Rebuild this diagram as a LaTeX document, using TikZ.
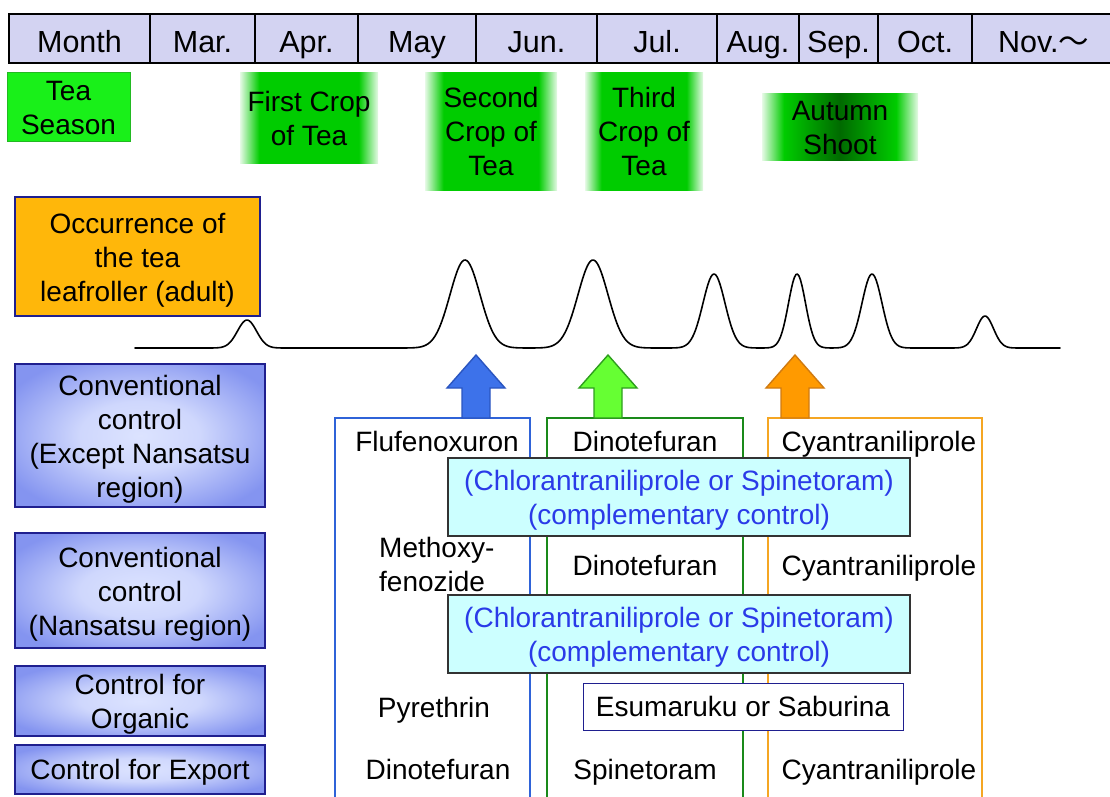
\documentclass[tikz,border=0pt]{standalone}
\usepackage{fontspec}
\setmainfont{Liberation Sans}
\newfontfamily\cjk{Noto Sans CJK JP}
\newcommand\toprl{\rule{0pt}{27pt}}
\definecolor{headfill}{HTML}{D3D3F2}
\definecolor{teagreen}{HTML}{19F019}
\definecolor{teaborder}{HTML}{22B922}
\definecolor{cropgreen}{HTML}{00CC00}
\definecolor{deepgreen}{HTML}{006A00}
\definecolor{occfill}{HTML}{FFB70A}
\definecolor{navy}{HTML}{1F1F8F}
\definecolor{ctrlin}{HTML}{DCE3FF}
\definecolor{ctrlout}{HTML}{8494F0}
\definecolor{cyanfill}{HTML}{CCFFFF}
\definecolor{cyantext}{HTML}{2A3AE8}
\definecolor{blueline}{HTML}{2F63D8}
\definecolor{greenline}{HTML}{1A8A1A}
\definecolor{orangeline}{HTML}{F5A623}
\definecolor{bluearrow}{HTML}{3D72EA}
\definecolor{bluearrowb}{HTML}{2A55C0}
\definecolor{greenarrow}{HTML}{66FF33}
\definecolor{greenarrowb}{HTML}{2E9E1E}
\definecolor{orangearrow}{HTML}{FF9A00}
\definecolor{orangearrowb}{HTML}{D07A10}
\pgfdeclarehorizontalshading{cropfade}{100bp}{color(0bp)=(cropgreen!10); color(25bp)=(cropgreen!10); color(32bp)=(cropgreen); color(68bp)=(cropgreen); color(75bp)=(cropgreen!10); color(100bp)=(cropgreen!10)}
\pgfdeclarehorizontalshading{autumnfade}{100bp}{color(0bp)=(cropgreen!10); color(25bp)=(cropgreen!10); color(32bp)=(cropgreen); color(50bp)=(deepgreen); color(68bp)=(cropgreen); color(75bp)=(cropgreen!10); color(100bp)=(cropgreen!10)}
\pgfdeclareradialshading{ctrlshade}{\pgfpoint{0bp}{0bp}}{color(0bp)=(ctrlin); color(12bp)=(ctrlin!85!ctrlout); color(30bp)=(ctrlout); color(50bp)=(ctrlout)}
\tikzset{
  every node/.style={font=\fontsize{28}{34}\selectfont, inner sep=0pt, align=center,
    execute at end node={\rule[-6pt]{0pt}{6pt}}},
  oneline/.style={text height=20pt, text depth=0pt},
  hcell/.style={font=\fontsize{30.5}{36}\selectfont, text height=27pt, text depth=0pt, draw=black, line width=1.6pt, fill=headfill, minimum height=49pt},
  teabox/.style={draw=teaborder, line width=1pt, fill=teagreen},
  cropbox/.style={shading=cropfade},
  autumnbox/.style={shading=autumnfade},
  occbox/.style={draw=navy, line width=1.6pt, fill=occfill},
  ctrlbox/.style={draw=navy, line width=1.6pt, shading=ctrlshade},
  cyanbox/.style={draw=black!80, line width=1.2pt, fill=cyanfill, text=cyantext},
  plainbox/.style={oneline, draw=navy, line width=1pt, fill=white},
  curve/.style={line width=1.6pt, line join=round, line cap=round},
}
\begin{document}
\begin{tikzpicture}[x=1pt, y=-1pt,
  declare function={G(\a,\c,\s)=exp(-0.5*min(((\a-\c)/\s)^2,60));}]
\useasboundingbox (0,0) rectangle (1110,796);
% header
\node[hcell, minimum width=141pt] (hmonth) at (79.5,38.5) {Month};
\node[hcell, minimum width=105pt] (hmar) at (202.5,38.5) {Mar.};
\node[hcell, minimum width=103pt] (hapr) at (306.5,38.5) {Apr.};
\node[hcell, minimum width=118pt] (hmay) at (417,38.5) {May};
\node[hcell, minimum width=121pt] (hjun) at (536.5,38.5) {Jun.};
\node[hcell, minimum width=120pt] (hjul) at (657,38.5) {Jul.};
\node[hcell, minimum width=82pt] (haug) at (758,38.5) {Aug.};
\node[hcell, minimum width=79pt] (hsep) at (838.5,38.5) {Sep.};
\node[hcell, minimum width=94pt] (hoct) at (925,38.5) {Oct.};
\node[hcell, minimum width=143pt] (hnov) at (1043.5,38.5) {Nov.{\cjk ～}};
% seasons
\node[teabox, minimum width=123pt, minimum height=69pt] (tea) at (68.5,106.5) {\toprl Tea\\Season};
\node[cropbox, minimum width=138pt, minimum height=91pt] (crop1) at (309,117.5) {\toprl First Crop\\of Tea};
\node[cropbox, minimum width=132pt, minimum height=118pt] (crop2) at (491,131) {\toprl Second\\Crop of\\Tea};
\node[cropbox, minimum width=118pt, minimum height=118pt] (crop3) at (644,131) {\toprl Third\\Crop of\\Tea};
\node[autumnbox, minimum width=156pt, minimum height=66pt] (autumn) at (840,127) {\toprl Autumn\\Shoot};
% left labels
\node[occbox, minimum width=245pt, minimum height=119pt] (occ) at (137.5,256.5) {\toprl Occurrence of\\the tea\\leafroller (adult)};
\node[ctrlbox, minimum width=250pt, minimum height=143pt] (conv1) at (140,435.5) {\toprl Conventional\\control\\(Except Nansatsu\\region)};
\node[ctrlbox, minimum width=250pt, minimum height=115pt] (conv2) at (140,590.5) {\toprl Conventional\\control\\(Nansatsu region)};
\node[ctrlbox, minimum width=250pt, minimum height=70pt] (org) at (140,701) {\toprl Control for\\Organic};
\node[ctrlbox, oneline, minimum width=250pt, minimum height=49pt] (exp) at (140,769.5) {Control for Export};
% occurrence curve
\draw[curve] plot[domain=135:1060, samples=600]
  (\x, {348 - 28*G(\x,247,9.5) - 88*G(\x,465,15) - 88*G(\x,593,15) - 74*G(\x,714,11) - 74*G(\x,797,8.5) - 74*G(\x,872,10) - 32*G(\x,985,8.5)});
% column frames
\draw[blueline, line width=1.6pt] (335,797) -- (335,418) -- (530,418) -- (530,797);
\draw[greenline, line width=1.6pt] (547,797) -- (547,418) -- (743,418) -- (743,797);
\draw[orangeline, line width=1.6pt] (768,797) -- (768,418) -- (982,418) -- (982,797);
% block arrows
\foreach \cx/\fc/\bc in {476/bluearrow/bluearrowb, 608/greenarrow/greenarrowb, 795/orangearrow/orangearrowb}{
  \draw[fill=\fc, draw=\bc, line width=1.4pt, line join=miter]
    (\cx,355) -- (\cx+29,388) -- (\cx+14,388) -- (\cx+14,418) -- (\cx-14,418) -- (\cx-14,388) -- (\cx-29,388) -- cycle;
}
% row 1
\node[oneline] (r1a) at (437,441) {Flufenoxuron};
\node[oneline] (r1b) at (645,441) {Dinotefuran};
\node[oneline] (r1c) at (879,441) {Cyantraniliprole};
\node[cyanbox, minimum width=462pt, minimum height=78pt] (cy1) at (679,497) {\toprl(Chlorantraniliprole or Spinetoram)\\(complementary control)};
% row 2
\node[anchor=west, align=left] (r2a) at (379,564) {\toprl Methoxy-\\fenozide};
\node[oneline] (r2b) at (645,565) {Dinotefuran};
\node[oneline] (r2c) at (879,565) {Cyantraniliprole};
\node[cyanbox, minimum width=462pt, minimum height=78pt] (cy2) at (679,634) {\toprl(Chlorantraniliprole or Spinetoram)\\(complementary control)};
% row 3
\node[oneline] (r3a) at (434,707) {Pyrethrin};
\node[plainbox, minimum width=320pt, minimum height=47pt] (r3b) at (743,706.5) {Esumaruku or Saburina};
% row 4
\node[oneline] (r4a) at (438,769) {Dinotefuran};
\node[oneline] (r4b) at (645,769) {Spinetoram};
\node[oneline] (r4c) at (879,769) {Cyantraniliprole};
\end{tikzpicture}
\end{document}
